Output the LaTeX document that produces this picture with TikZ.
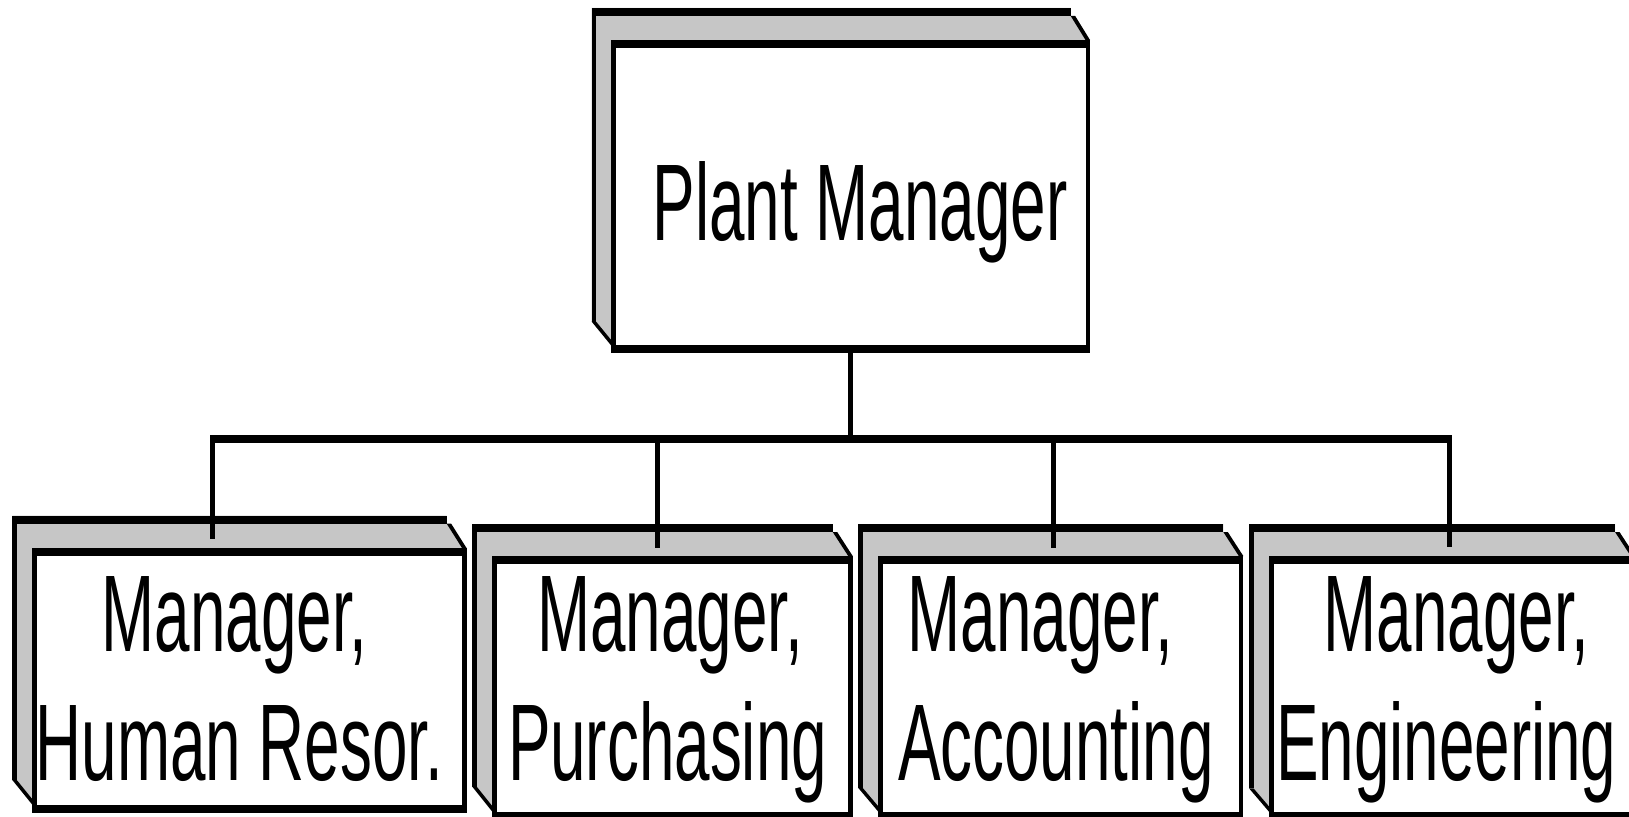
\documentclass[tikz,border=0pt]{standalone}
\usepackage{fontspec}
\setmainfont{Liberation Sans}

\definecolor{facegray}{HTML}{C6C6C6}

\tikzset{
  % front face of a box: black frame, thin sides and thick top/bottom
  frontbox/.style={rectangle, fill=black, draw=none, inner sep=0pt, outer sep=0pt,
    anchor=north west,
    path picture={\fill[white]
      ([xshift=4.5pt,yshift=-8pt]path picture bounding box.north west) rectangle
      ([xshift=-4.5pt,yshift=8pt]path picture bounding box.south east);}},
  vline/.style={line width=5pt},
  hline/.style={line width=8pt},
  caption/.style={inner sep=0pt, outer sep=0pt, anchor=base,
    font=\fontsize{109}{128}\selectfont},
}

% condensed lettering
\newcommand{\narrowed}[1]{\scalebox{0.585}[1]{#1}}

% box with a raised back face
% #1 name, #2-#5 back face (left, top, right end, bottom end), #6-#9 front face (l,t,r,b)
\newcommand{\deptbox}[9]{%
  \fill[facegray] (#2,#5) -- (#2,#3) -- (#4,#3) -- (#4,#3+8) -- (#8,#7)
     -- (#6,#9-8) -- (#2+4.5,#5) -- cycle;
  \fill (#2,#3) rectangle (#2+4.5,#5);
  \fill (#2,#3) rectangle (#4,#3+8);
  \fill (#4,#3+8) -- (#4+4.5,#3+8) -- (#8,#7) -- (#8-4.5,#7) -- cycle;
  \fill (#2,#5) -- (#2+4.5,#5) -- (#6+4.5,#9-8) -- (#6,#9-8) -- cycle;
  \node[frontbox, minimum width={(#8-#6)*1pt}, minimum height={(#9-#7)*1pt}] (#1) at (#6,#7) {};
}

\begin{document}
\begin{tikzpicture}[x=1pt, y=-1pt]
  \fill[white] (0,0) rectangle (1629,816);
  \useasboundingbox (0,0) rectangle (1629,816);
  \clip (0,0) rectangle (1629,816);

  % boxes
  \deptbox{pm}{591.7}{8}{1070.7}{321.7}{611}{40}{1090}{353.3}
  \deptbox{hr}{12.3}{515.7}{446.7}{780}{32.3}{548.3}{466.7}{812.7}
  \deptbox{pur}{472.3}{524}{832.7}{786.7}{492.3}{556}{852.7}{819.7}
  \deptbox{acc}{858.3}{524}{1223.3}{788}{878.3}{556}{1243.3}{819.7}
  \deptbox{eng}{1249}{524}{1615}{788.3}{1269}{555.7}{1635}{819.7}

  % labels
  \node[caption] (pm-t) at (860,240.7) {\narrowed{Plant Manager}};
  \node[caption] (hr-t1) at (234.7,651.7) {\narrowed{Manager,}};
  \node[caption] (hr-t2) at (239.5,780) {\narrowed{Human Resor.}};
  \node[caption] (pur-t1) at (670.2,651.7) {\narrowed{Manager,}};
  \node[caption] (pur-t2) at (667.5,780) {\narrowed{Purchasing}};
  \node[caption] (acc-t1) at (1040.8,651.7) {\narrowed{Manager,}};
  \node[caption] (acc-t2) at (1055.8,780) {\narrowed{Accounting}};
  \node[caption] (eng-t1) at (1456.7,651.7) {\narrowed{Manager,}};
  \node[caption] (eng-t2) at (1446.2,780) {\narrowed{Engineering}};

  % connector ends
  \coordinate (j) at (850.8,439);
  \coordinate (hrc) at (212.8,539);
  \coordinate (purc) at (657.3,547.7);
  \coordinate (accc) at (1053,547.7);
  \coordinate (engc) at (1449.5,546.7);

  % reporting lines
  \draw[vline] (pm.south -| j) -- (j);
  \draw[hline] ([xshift=-2.5pt]hrc |- j) -- ([xshift=2.5pt]engc |- j);
  \draw[vline] (hrc |- j) -- (hrc);
  \draw[vline] (purc |- j) -- (purc);
  \draw[vline] (accc |- j) -- (accc);
  \draw[vline] (engc |- j) -- (engc);
\end{tikzpicture}
\end{document}
